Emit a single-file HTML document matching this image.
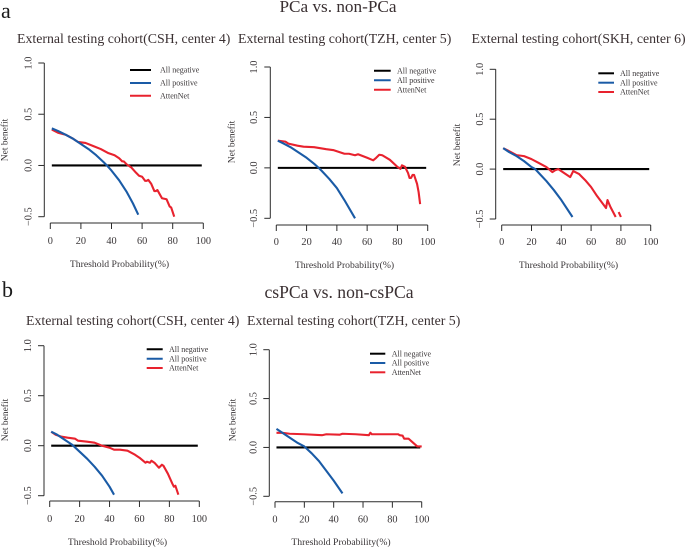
<!DOCTYPE html>
<html>
<head>
<meta charset="utf-8">
<title>Decision curves</title>
<style>
html,body{margin:0;padding:0;background:#fff;}
svg{display:block;font-family:"Liberation Serif",serif;}
</style>
</head>
<body>
<svg id="fig" width="685" height="547" viewBox="0 0 685 547" xmlns="http://www.w3.org/2000/svg">
  <text x="1" y="18" font-size="22" fill="#1a1a1a">a</text>
  <text x="2" y="297" font-size="22" fill="#1a1a1a">b</text>
  <text x="338" y="12" font-size="17.2" fill="#3a3032" text-anchor="middle">PCa vs. non-PCa</text>
  <text x="339" y="298" font-size="17.6" fill="#3a3032" text-anchor="middle">csPCa vs. non-csPCa</text>
</svg>
<script>
var xTickValues = [0, 20, 40, 60, 80, 100];
var yTickValues = [-0.5, 0, 0.5, 1];
var yTickLabels = ["\u22120.5", "0.0", "0.5", "1.0"];
var legendLabels = ["All negative", "All positive", "AttenNet"];
var negativeX = [1, 99];
var negativeY = [0, 0];

var titles = [
  "External testing cohort(CSH, center 4)",
  "External testing cohort(TZH, center 5)",
  "External testing cohort(SKH, center 6)",
  "External testing cohort(CSH, center 4)",
  "External testing cohort(TZH, center 5)"
];

var positiveX1 = [1, 5, 10, 15, 20, 25, 30, 35, 37, 40, 45, 50, 54, 57.5];
var positiveY1 = [0.362, 0.337, 0.30, 0.26, 0.21, 0.16, 0.10, 0.03, 0, -0.05, -0.145, -0.26, -0.37, -0.48];
var attenX1 = [1, 5, 10, 15, 18, 23, 28, 33, 38, 42, 45, 47, 48, 50, 53, 56, 58, 60, 62, 63, 64, 66, 68, 69, 70, 73, 76, 78, 79, 81];
var attenY1 = [0.35, 0.32, 0.30, 0.26, 0.23, 0.22, 0.19, 0.16, 0.12, 0.10, 0.07, 0.04, 0.04, 0.01, -0.02, -0.07, -0.10, -0.11, -0.15, -0.15, -0.14, -0.18, -0.25, -0.25, -0.24, -0.32, -0.33, -0.40, -0.41, -0.50];

var positiveX2 = [1, 5, 10, 15, 20, 25, 28, 30, 35, 40, 45, 52];
var positiveY2 = [0.27, 0.24, 0.20, 0.15, 0.10, 0.04, 0, -0.03, -0.11, -0.20, -0.32, -0.50];
var attenX2 = [1, 6, 8, 14, 18, 25, 33, 38, 45, 48, 52, 54, 60, 64, 66, 68, 70, 75, 80, 82, 83, 85, 87, 88, 89, 90, 91, 93, 94, 95];
var attenY2 = [0.27, 0.26, 0.24, 0.22, 0.21, 0.205, 0.185, 0.175, 0.14, 0.14, 0.125, 0.135, 0.10, 0.075, 0.10, 0.13, 0.125, 0.08, 0.01, -0.01, 0.025, 0.01, -0.05, -0.10, -0.10, -0.07, -0.07, -0.16, -0.24, -0.36];

var positiveX3 = [1, 5, 10, 15, 20, 22.5, 30, 35, 40, 47.5];
var positiveY3 = [0.21, 0.17, 0.13, 0.08, 0.02, 0, -0.12, -0.21, -0.31, -0.48];
var attenX3 = [1, 5, 10, 15, 20, 25, 30, 34, 36, 38, 42, 46, 48, 52, 56, 60, 64, 67, 70, 71, 73, 76.5, 77, 78.5, 80];
var attenY3 = [0.21, 0.18, 0.14, 0.13, 0.10, 0.06, 0.02, -0.03, -0.01, 0, -0.04, -0.08, -0.02, -0.05, -0.11, -0.18, -0.27, -0.33, -0.39, -0.31, -0.38, -0.48, null, -0.43, -0.48];

var positiveX4 = [1, 5, 10, 15, 20, 25, 30, 35, 40, 43];
var positiveY4 = [0.14, 0.11, 0.06, 0.01, -0.06, -0.13, -0.21, -0.30, -0.41, -0.49];
var attenX4 = [1, 4, 8, 12, 17, 19, 25, 30, 35, 40, 43, 47, 52, 57, 60, 64, 65, 67, 68, 70, 73, 75, 76, 79, 82, 83, 84, 86];
var attenY4 = [0.14, 0.11, 0.09, 0.08, 0.07, 0.05, 0.04, 0.03, 0, -0.02, -0.04, -0.04, -0.05, -0.09, -0.12, -0.17, -0.16, -0.17, -0.15, -0.17, -0.22, -0.19, -0.20, -0.28, -0.38, -0.41, -0.40, -0.49];

var positiveX5 = [1, 5, 10, 15, 20, 25, 30, 35, 40, 46];
var positiveY5 = [0.19, 0.15, 0.10, 0.05, 0.01, -0.06, -0.14, -0.24, -0.34, -0.47];
var attenX5 = [1, 5, 10, 20, 32, 35, 44, 46, 55, 64, 65, 66, 75, 84, 85, 87, 88, 91, 94, 97, 100];
var attenY5 = [0.15, 0.15, 0.14, 0.135, 0.125, 0.135, 0.13, 0.14, 0.135, 0.125, 0.15, 0.135, 0.135, 0.135, 0.125, 0.12, 0.09, 0.09, 0.05, 0.01, 0.01];

var panels = [
  {name:"csh-a", x0:50.3, x100:203.3, yTop:63, yBot:216.7, axisX:44.3, axisY:223, tickXLabelY:244, tickYLabelX:31.5, titleX:17, titleY:43, legX1:130, legX2:151, legText:160, legY:[70,83,95.7], legFont:8, netX:8.5, netY:140, xlabX:119.5, xlabY:267, posX:positiveX1, posY:positiveY1, attX:attenX1, attY:attenY1},
  {name:"tzh-a", x0:276.3, x100:427.7, yTop:67, yBot:218.3, axisX:270.3, axisY:225, tickXLabelY:245, tickYLabelX:257, titleX:238, titleY:43, legX1:374, legX2:390.7, legText:397, legY:[70.7,80.3,89.7], legFont:8, netX:235.5, netY:142, xlabX:344.5, xlabY:268, posX:positiveX2, posY:positiveY2, attX:attenX2, attY:attenY2},
  {name:"skh-a", x0:501.7, x100:650.7, yTop:69.3, yBot:219, axisX:495.7, axisY:225, tickXLabelY:245, tickYLabelX:483, titleX:471.5, titleY:43, legX1:598.3, legX2:614, legText:620, legY:[73.3,82.7,92], legFont:8, netX:461, netY:145, xlabX:568.5, xlabY:268, posX:positiveX3, posY:positiveY3, attX:attenX3, attY:attenY3},
  {name:"csh-b", x0:49.7, x100:199.3, yTop:345.7, yBot:495.7, axisX:44, axisY:501, tickXLabelY:522, tickYLabelX:31, titleX:26, titleY:325, legX1:146.7, legX2:162.7, legText:169, legY:[349.3,358.7,368], legFont:8, netX:9, netY:420, xlabX:117.5, xlabY:545, posX:positiveX4, posY:positiveY4, attX:attenX4, attY:attenY4},
  {name:"tzh-b", x0:275, x100:421.7, yTop:349.7, yBot:496.3, axisX:269.3, axisY:501.7, tickXLabelY:522.5, tickYLabelX:256.5, titleX:247, titleY:325, legX1:370, legX2:385.3, legText:391.7, legY:[353.7,363,372.3], legFont:8, netX:236.5, netY:420, xlabX:341, xlabY:545, posX:positiveX5, posY:positiveY5, attX:attenX5, attY:attenY5}
];

var NS = "http://www.w3.org/2000/svg";
var fig = document.getElementById("fig");
var seriesColors = ["#000000", "#1a5ba6", "#e8222e"];

function make(tag, parent, attrs) {
  var el = document.createElementNS(NS, tag);
  for (var k in attrs) el.setAttribute(k, attrs[k]);
  parent.appendChild(el);
  return el;
}
function curvePath(xs, ys, sx, sy) {
  var d = "", pen = false;
  for (var i = 0; i < xs.length; i++) {
    if (ys[i] === null) { pen = false; continue; }
    d += (pen ? "L" : "M") + sx(xs[i]).toFixed(2) + " " + sy(ys[i]).toFixed(2);
    pen = true;
  }
  return d;
}

panels.forEach(function (p, idx) {
  var sx = function (v) { return p.x0 + (p.x100 - p.x0) * v / 100; };
  var sy = function (v) { return p.yBot + (p.yTop - p.yBot) * (v + 0.5) / 1.5; };
  var axisColor = "#2b2b2b", textColor = "#3a3638";

  var g = make("g", fig, {});
  
  

  var title = make("text", g, {x: p.titleX, y: p.titleY, "font-size": 13.85, fill: "#3a3032"});
  title.textContent = titles[idx];
  
  

  var yAxis = make("path", g, {fill: "none", stroke: axisColor, "stroke-width": 1,
    d: "M" + p.axisX + " " + sy(yTickValues[0]) + "L" + p.axisX + " " + sy(yTickValues[yTickValues.length - 1])});
  
  

  yTickValues.forEach(function (v, i) {
    var t = make("line", g, {x1: p.axisX - 6, x2: p.axisX, y1: sy(v), y2: sy(v), stroke: axisColor, "stroke-width": 1});
    
    
    var l = make("text", g, {x: 0, y: 0, "font-size": 10.3, fill: textColor, "text-anchor": "middle",
      transform: "translate(" + p.tickYLabelX + " " + sy(v) + ") rotate(-90)"});
    l.textContent = yTickLabels[i];
    
    
  });

  var xAxis = make("path", g, {fill: "none", stroke: axisColor, "stroke-width": 1,
    d: "M" + sx(xTickValues[0]) + " " + p.axisY + "L" + sx(xTickValues[xTickValues.length - 1]) + " " + p.axisY});
  
  

  xTickValues.forEach(function (v) {
    var t = make("line", g, {x1: sx(v), x2: sx(v), y1: p.axisY, y2: p.axisY + 6, stroke: axisColor, "stroke-width": 1});
    
    
    var l = make("text", g, {x: sx(v), y: p.tickXLabelY, "font-size": 10.3, fill: textColor, "text-anchor": "middle"});
    l.textContent = String(v);
    
    
  });

  var yTitle = make("text", g, {x: 0, y: 0, "font-size": 9.5, fill: textColor, "text-anchor": "middle",
    transform: "translate(" + (p.netX - 1) + " " + p.netY + ") rotate(-90)"});
  yTitle.textContent = "Net benefit";
  
  

  var xTitle = make("text", g, {x: p.xlabX, y: p.xlabY, "font-size": 9.7, fill: textColor, "text-anchor": "middle"});
  xTitle.textContent = "Threshold Probability(%)";
  
  

  var neg = make("path", g, {fill: "none", stroke: seriesColors[0], "stroke-width": 2.1, d: curvePath(negativeX, negativeY, sx, sy)});
  
  

  var att = make("path", g, {fill: "none", stroke: seriesColors[2], "stroke-width": 2.1, "stroke-linejoin": "round", d: curvePath(p.attX, p.attY, sx, sy)});
  
  

  var pos = make("path", g, {fill: "none", stroke: seriesColors[1], "stroke-width": 2.1, "stroke-linejoin": "round", d: curvePath(p.posX, p.posY, sx, sy)});
  
  

  legendLabels.forEach(function (txt, i) {
    var s = make("line", g, {x1: p.legX1, x2: p.legX2, y1: p.legY[i], y2: p.legY[i], stroke: seriesColors[i], "stroke-width": 2});
    
    
    var l = make("text", g, {x: p.legText, y: p.legY[i] + 2.6, "font-size": p.legFont, fill: textColor});
    l.textContent = txt;
    
    
  });
});
</script>
</body>
</html>
